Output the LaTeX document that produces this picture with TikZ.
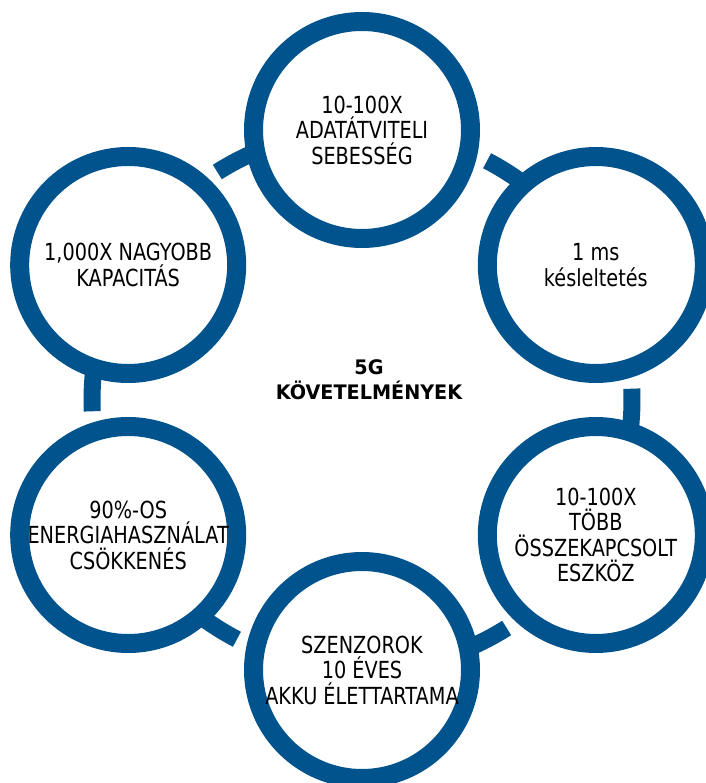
\documentclass[tikz,border=0pt]{standalone}
\usepackage{fontspec}
\setmainfont{DejaVu Sans}[FakeStretch=0.82]
\newfontfamily\hubfont{DejaVu Sans}[FakeStretch=0.96]
\usetikzlibrary{backgrounds}

\definecolor{kekszin}{RGB}{0,83,140}

\tikzset{
  cel/.style={circle, draw=kekszin, line width=19pt, fill=white,
              minimum size=217pt, inner sep=0pt, align=center,
              font=\fontsize{23.5}{25.5}\selectfont},
  kapocs/.style={draw=kekszin, line width=17pt}
}

\begin{document}
\begin{tikzpicture}
  \useasboundingbox (-362pt,-383pt) rectangle (343pt,400pt);

  \node[align=center, font=\hubfont\bfseries\fontsize{20}{25}\selectfont]
    (kovetelmenyek) at (7pt,20pt) {5G\\KÖVETELMÉNYEK};

  % the six requirements around the ring
  \node[cel] (sebesseg)  at (90:270pt)  {10-100X\\ADATÁTVITELI\\SEBESSÉG};
  \node[cel] (keses)     at (30:270pt)  {1 ms\\késleltetés};
  \node[cel] (eszkoz)    at (-30:270pt) {10-100X\\TÖBB\\ÖSSZEKAPCSOLT\\ESZKÖZ};
  \node[cel] (akku)      at (-90:270pt) {SZENZOROK\\10 ÉVES\\AKKU ÉLETTARTAMA};
  \node[cel] (energia)   at (210:270pt) {90\%-OS\\ENERGIAHASZNÁLAT\\CSÖKKENÉS};
  \node[cel] (kapacitas) at (150:270pt) {1,000X NAGYOBB\\KAPACITÁS};

  % short arcs, each stops just before the next circle
  \begin{scope}[on background layer]
    \foreach \n/\a in {sebesseg/90, kapacitas/150, energia/210,
                       akku/270, eszkoz/330, keses/30}
      \draw[kapocs] (\n.center) arc[start angle=\a, delta angle=32.4, radius=270pt];
  \end{scope}
\end{tikzpicture}
\end{document}
